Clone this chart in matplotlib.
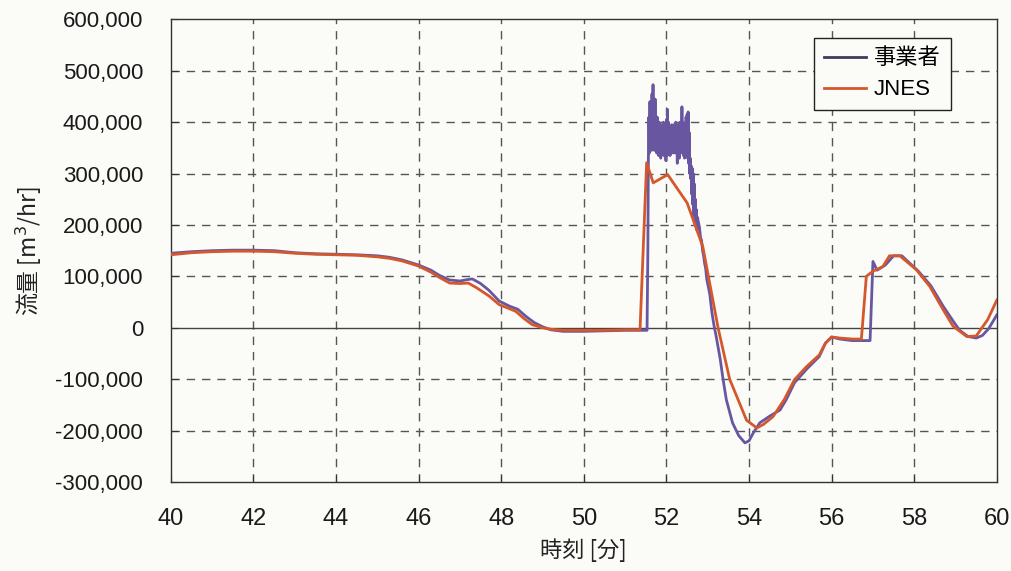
import matplotlib
matplotlib.use("Agg")
import matplotlib.pyplot as plt
from matplotlib.ticker import FuncFormatter

plt.rcParams['font.family'] = ['Liberation Sans', 'Noto Sans CJK JP', 'DejaVu Sans']

# 事業者 (operator) data: time [min], flow [m3/hr]
t_jigyo = [40.0, 40.5, 41.0, 41.5, 42.0, 42.5, 43.0, 43.5, 44.0, 44.5, 45.0, 45.3, 45.6,
           46.0, 46.3, 46.5, 46.75, 47.0, 47.2, 47.3, 47.5, 47.7, 47.95, 48.2, 48.4, 48.6,
           48.8, 49.0, 49.2, 49.5, 50.0, 50.5, 51.0, 51.53,
           51.55, 51.5625, 51.575, 51.5875, 51.6, 51.6125, 51.625, 51.6375, 51.65, 51.6625,
           51.675, 51.6875, 51.7, 51.7125, 51.725, 51.7375, 51.75, 51.7625, 51.775, 51.7875,
           51.8, 51.8125, 51.825, 51.8375, 51.85, 51.8625, 51.875, 51.8875, 51.9, 51.9125,
           51.925, 51.9375, 51.95, 51.9625, 51.975, 51.9875, 52.0, 52.0125, 52.025, 52.0375,
           52.05, 52.0625, 52.075, 52.0875, 52.1, 52.1125, 52.125, 52.1375, 52.15, 52.1625,
           52.175, 52.1875, 52.2, 52.2125, 52.225, 52.2375, 52.25, 52.2625, 52.275, 52.2875,
           52.3, 52.3125, 52.325, 52.3375, 52.35, 52.3625, 52.375, 52.3875, 52.4, 52.4125,
           52.425, 52.4375, 52.45, 52.4625, 52.475, 52.4875, 52.5, 52.5125, 52.525, 52.5375,
           52.55, 52.5625, 52.575, 52.5875, 52.6, 52.6125, 52.625, 52.6375, 52.65, 52.6625,
           52.675, 52.6875, 52.7, 52.7125, 52.725, 52.7375, 52.75,
           52.8, 52.825, 52.85, 52.875, 52.9, 52.925, 52.95, 52.975, 53.0, 53.05, 53.1,
           53.15, 53.2, 53.3, 53.37, 53.45, 53.6, 53.75, 53.9, 54.0, 54.1, 54.26, 54.5,
           54.75, 54.9, 55.1, 55.4, 55.7, 55.85, 56.0, 56.2, 56.5, 56.93, 56.97, 57.0,
           57.1, 57.3, 57.5, 57.7, 57.9, 58.1, 58.4, 58.7, 58.95, 59.1, 59.3, 59.5,
           59.65, 59.8, 60.0]
v_jigyo = [145000, 148000, 150000, 151000, 151000, 150000, 146000, 144000, 143000, 142000,
           140000, 137000, 132000, 122000, 112000, 102000, 93000, 91000, 94000, 95000,
           86000, 73000, 52000, 42000, 36000, 22000, 10000, 2000, -4000, -7000, -7000,
           -6000, -5000, -5000,
           150000, 330000, 410000, 340000, 440000, 350000, 420000, 345000, 455000, 360000,
           473000, 350000, 430000, 345000, 445000, 355000, 400000, 340000, 410000, 350000,
           395000, 335000, 400000, 345000, 390000, 330000, 395000, 340000, 385000, 345000,
           400000, 335000, 390000, 340000, 395000, 325000, 405000, 335000, 425000, 340000,
           400000, 345000, 390000, 335000, 385000, 340000, 395000, 345000, 380000, 340000,
           395000, 345000, 390000, 340000, 400000, 345000, 385000, 320000, 395000, 335000,
           390000, 330000, 400000, 340000, 395000, 345000, 430000, 340000, 400000, 335000,
           390000, 330000, 395000, 340000, 410000, 335000, 415000, 330000, 420000, 320000,
           380000, 300000, 330000, 290000, 315000, 260000, 310000, 240000, 300000, 220000,
           280000, 215000, 250000, 200000, 230000, 190000, 215000,
           195000, 175000, 170000, 150000, 140000, 125000, 115000, 95000, 85000, 65000,
           30000, 5000, -15000, -60000, -100000, -140000, -185000, -210000, -224000,
           -220000, -205000, -185000, -172000, -160000, -140000, -107000, -80000, -56000,
           -30000, -18000, -22000, -25000, -25000, 60000, 129000, 112000, 122000, 140000,
           140000, 125000, 110000, 82000, 42000, 12000, -5000, -17000, -20000, -15000,
           -2000, 25000]

# JNES data
t_jnes = [40.0, 40.5, 41.0, 41.5, 42.0, 42.5, 43.0, 43.5, 44.0, 44.5, 45.0, 45.3, 45.6,
          46.0, 46.3, 46.5, 46.75, 47.0, 47.2, 47.4, 47.7, 47.95, 48.2, 48.35, 48.55,
          48.75, 49.0, 49.2, 49.5, 50.0, 50.5, 51.0, 51.36, 51.52, 51.68, 52.03, 52.5,
          52.88, 53.25, 53.53, 53.94, 54.19, 54.35, 54.58, 54.85, 55.1, 55.4, 55.7,
          55.85, 56.0, 56.2, 56.5, 56.72, 56.84, 57.0, 57.24, 57.4, 57.65, 58.05,
          58.38, 58.7, 58.94, 59.27, 59.5, 59.78, 60.0]
v_jnes = [142000, 146000, 148000, 149000, 149000, 148000, 145000, 143000, 142000, 141000,
          138000, 135000, 130000, 120000, 108000, 98000, 87000, 86000, 87000, 78000,
          62000, 45000, 37000, 32000, 18000, 6000, 0, -3000, -5000, -5000, -5000, -4000,
          -4000, 321000, 282000, 298000, 243000, 158000, 0, -100000, -180000, -195000,
          -188000, -173000, -140000, -101000, -75000, -53000, -30000, -18000, -20000,
          -22000, -22000, 100000, 110000, 119000, 140000, 140000, 113000, 80000, 35000,
          3000, -17000, -16000, 16000, 54000]

x_ticks = list(range(40, 61, 2))
y_ticks = list(range(-300000, 600001, 100000))

BG = '#fbfbf8'
CJK = ['Noto Sans CJK JP', 'DejaVu Sans']

fig = plt.figure(figsize=(10.11, 5.71), dpi=100, facecolor=BG)
ax = fig.add_axes([0.169, 0.156, 0.817, 0.810])
ax.set_facecolor(BG)

ax.plot(t_jigyo, v_jigyo, color='#6857a0', lw=2.0, zorder=3, label='事業者')
ax.plot(t_jnes, v_jnes, color='#d4582c', lw=2.0, zorder=4, label='JNES')

ax.set_xlim(40, 60)
ax.set_ylim(-300000, 600000)
ax.set_xticks(x_ticks)
ax.set_yticks(y_ticks)
ax.yaxis.set_major_formatter(FuncFormatter(lambda v, p: f"{int(v):,}"))

for xv in x_ticks[1:-1]:
    ax.axvline(xv, color='#555555', lw=1.0, ls=(0, (6, 5)), zorder=1)
for yv in y_ticks[1:-1]:
    if yv == 0:
        ax.axhline(0, color='#444444', lw=1.0, zorder=1)
    else:
        ax.axhline(yv, color='#555555', lw=1.0, ls=(0, (6, 5)), zorder=1)

for s in ax.spines.values():
    s.set_color('#333333')
    s.set_linewidth(1.0)

ax.tick_params(axis='both', direction='in', length=5, width=0.8, colors='#333333',
               labelcolor='#1a1a1a')
ax.tick_params(axis='y', labelsize=16, pad=20)
ax.tick_params(axis='x', labelsize=17, pad=19)

ax.set_xlabel('時刻 [分]', fontsize=16, family=CJK, labelpad=6, color='#222222')
ax.set_ylabel('流量 [m$^3$/hr]', fontsize=16.5, family=CJK, labelpad=8, color='#222222')

leg = ax.legend(loc='upper right', bbox_to_anchor=(0.944, 0.959),
                frameon=True, fancybox=False, edgecolor='#222222', facecolor=BG,
                framealpha=1.0, handlelength=1.9, handletextpad=0.35, borderpad=0.45,
                labelspacing=0.45, borderaxespad=0,
                prop={'family': ['Liberation Sans', 'Noto Sans CJK JP'], 'size': 16})
leg.get_frame().set_linewidth(1.0)
leg.legend_handles[0].set_color('#3d3d5a')

fig.savefig('out.png', dpi=100, facecolor=fig.get_facecolor())
